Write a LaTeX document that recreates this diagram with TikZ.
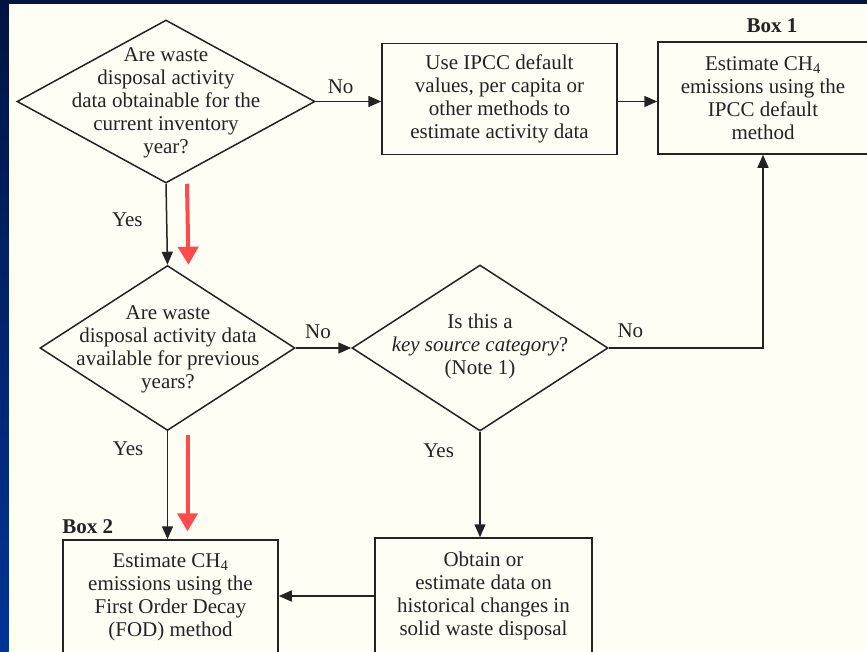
\documentclass[tikz,border=0pt]{standalone}
\usepackage{fontspec}
\setmainfont{Liberation Serif}
\usetikzlibrary{shapes.geometric,arrows.meta}

\definecolor{slidenavy}{RGB}{0,20,66}
\definecolor{slideblue}{RGB}{0,52,152}
\definecolor{paper}{RGB}{254,254,244}
\definecolor{ink}{RGB}{35,35,35}
\definecolor{redmark}{RGB}{255,75,75}

\begin{document}
\begin{tikzpicture}[x=1pt,y=-1pt,font=\fontsize{21}{23}\selectfont]
\tikzset{
% Two shapes for the flow chart: questions and boxes
question/.style={diamond,draw=ink,line width=1.5,inner sep=0},
qtext/.style={align=center,text=ink,inner sep=0},
box/.style={rectangle,draw=ink,line width=1.5,align=center,text=ink,inner sep=0},
tag/.style={font=\fontsize{21}{23}\selectfont\bfseries,text=ink,inner sep=0},
flow/.style={draw=ink,line width=1.5,-{Triangle[length=13pt,width=11pt]}},
redarrow/.style={draw=redmark,line width=4,-{Triangle[length=18pt,width=20pt]}}
}

% slide and scanned page
\useasboundingbox (0,0) rectangle (867,651);
\clip (0,0) rectangle (867,651);
\fill[slidenavy] (0,0) rectangle (867,651);
\shade[top color=slidenavy,bottom color=slideblue] (0,0) rectangle (8.5,651);
\fill[paper] (8.5,4) rectangle (867,651);

% The questions
\node(q1)[question,minimum width=298pt,minimum height=163pt] at (166,101.5) {};
\node(q1text)[qtext] at (166,103) {Are waste\\ disposal activity\\ data obtainable for the\\ current inventory\\ year?};
\node(q3)[question,minimum width=255pt,minimum height=165pt] at (167.5,348) {};
\node(q3text)[qtext] at (168,349) {Are waste\\ disposal activity data\\ available for previous\\ years?};
\node(q2)[question,minimum width=256pt,minimum height=166pt] at (480,348) {};
\node(q2text)[qtext] at (480,346) {Is this a\\ \textit{key source category}?\\ (Note 1)};

% The boxes
\node(use)[box,minimum width=235pt,minimum height=111pt] at (499.5,99) {Use IPCC default\\ values, per capita or\\ other methods to\\ estimate activity data};
\node(box1)[box,minimum width=210pt,minimum height=112pt] at (763,98) {Estimate CH\textsubscript{4}\\ emissions using the\\ IPCC default\\ method};
\node(box2)[box,minimum width=215pt,minimum height=114pt] at (170.5,597) {Estimate CH\textsubscript{4}\\ emissions using the\\ First Order Decay\\ (FOD) method};
\node(obtain)[box,minimum width=217pt,minimum height=116pt] at (483.5,596) {Obtain or\\ estimate data on\\ historical changes in\\ solid waste disposal};
\node(box1tag)[tag,anchor=south] at ([xshift=9pt,yshift=8pt]box1.north) {Box 1};
\node(box2tag)[tag,anchor=south west] at ([yshift=5pt]box2.north west) {Box 2};

% connectors
\draw[flow] (q1.east) -- node[above=4pt,pos=.38,text=ink]{No} (q1.east -| use.west);
\draw[flow] (use.east |- q1.east) -- (box1.west |- q1.east);
\draw[flow] (q1.south) -- node[left=20pt,pos=.45,text=ink]{Yes} (q3.north);
\draw[flow] (q3.east) -- node[above=5pt,pos=.4,text=ink]{No} (q2.west);
\draw[flow] (q2.east) -| node[above=6pt,pos=.07,text=ink]{No} (box1.south);
\draw[flow] (q3.south) -- node[left=20pt,pos=.16,text=ink]{Yes} (q3.south |- box2.north);
\draw[flow] (q2.south) -- node[left=22pt,pos=.18,text=ink]{Yes} (q2.south |- obtain.north);
\draw[flow] (obtain.west) -- (box2.east |- obtain.west);

% highlighted path
\draw[redarrow] ([xshift=21pt]q1.south) -- ([xshift=21pt]q3.north);
\draw[redarrow] ([xshift=20pt,yshift=-4pt]q3.south) -- ([xshift=17pt,yshift=8pt]box2.north);
\end{tikzpicture}
\end{document}
